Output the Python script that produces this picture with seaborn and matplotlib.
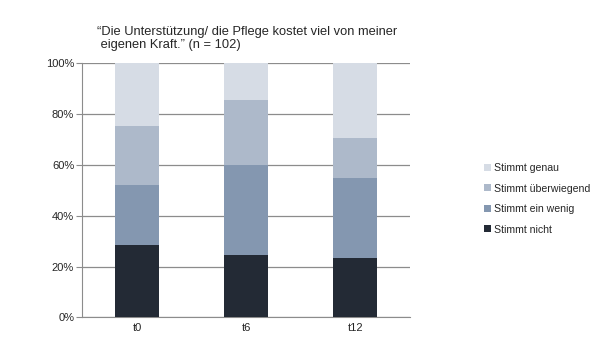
import matplotlib
matplotlib.use("Agg")
import matplotlib.pyplot as plt
import seaborn as sns
import numpy as np
import pandas as pd
from matplotlib.patches import Patch
from matplotlib.ticker import FuncFormatter, MultipleLocator

categories = ["t0", "t6", "t12"]
series_names = ["Stimmt nicht", "Stimmt ein wenig", "Stimmt überwiegend", "Stimmt genau"]
stimmt_nicht = [28.5, 24.5, 23.4]
stimmt_ein_wenig = [23.6, 35.5, 31.6]
stimmt_ueberwiegend = [23.2, 25.5, 15.6]
stimmt_genau = [24.7, 14.5, 29.4]
colors = ["#232A35", "#8497B0", "#ADB9CA", "#D6DCE5"]
title = "\u201cDie Unterstützung/ die Pflege kostet viel von meiner\n eigenen Kraft.\u201d (n = 102)"

sns.set_style("white")
plt.rcParams["font.family"] = ["Liberation Sans", "DejaVu Sans"]

values = [stimmt_nicht, stimmt_ein_wenig, stimmt_ueberwiegend, stimmt_genau]
cum = np.cumsum(np.array(values), axis=0)

fig = plt.figure(figsize=(6.02, 3.57), dpi=100)
ax = fig.add_axes([0.137, 0.111, 0.544, 0.712])

for i in reversed(range(len(series_names))):
    df = pd.DataFrame({"cat": categories, "val": cum[i]})
    sns.barplot(data=df, x="cat", y="val", color=colors[i], saturation=1,
                width=0.405, ax=ax, zorder=3, edgecolor="none")

ax.set_ylim(0, 100)
ax.set_xlim(-0.5, 2.5)
ax.yaxis.set_major_locator(MultipleLocator(20))
ax.yaxis.set_major_formatter(FuncFormatter(lambda v, p: f"{int(v)}%"))
ax.grid(axis="y", color="#8C8C8C", linewidth=0.9, zorder=0)
ax.set_axisbelow(True)
for s in ["top", "right"]:
    ax.spines[s].set_visible(False)
ax.spines["left"].set_color("#8C8C8C")
ax.spines["bottom"].set_color("#8C8C8C")
ax.set_xlabel("")
ax.set_ylabel("")
ax.set_xticks([0, 1, 2])
ax.set_xticklabels(categories)
ax.set_xticks([-0.5, 0.5, 1.5, 2.5], minor=True)
ax.tick_params(axis="x", which="major", length=0, labelsize=8, pad=4)
ax.tick_params(axis="x", which="minor", length=4, color="#8C8C8C", direction="out")
ax.tick_params(axis="y", length=4, color="#8C8C8C", direction="out", labelsize=8, pad=2)
ax.tick_params(axis="both", left=True, bottom=True)

fig.text(0.161, 0.926, title, fontsize=9.3, ha="left", va="top", linespacing=1.12)

handles = [Patch(facecolor=colors[i], edgecolor="none") for i in reversed(range(4))]
labels = [series_names[i] for i in reversed(range(4))]
leg = fig.legend(handles, labels, loc="center left", bbox_to_anchor=(0.788, 0.443),
                 frameon=False, fontsize=7.6, handlelength=0.65, handleheight=0.65,
                 handletextpad=0.3, labelspacing=1.0)

fig.savefig("out.png", dpi=100)
